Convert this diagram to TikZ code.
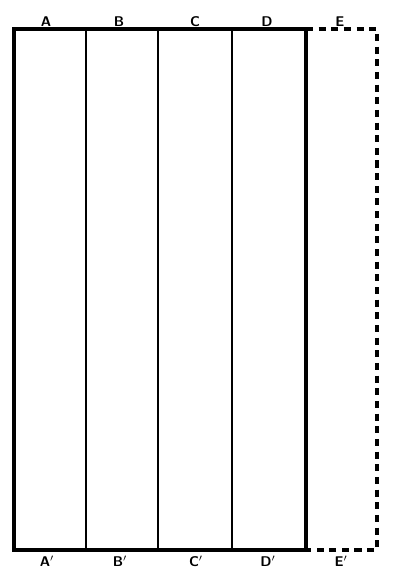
\documentclass[tikz,border=0pt]{standalone}
\usepackage{tikz}
\usetikzlibrary{calc,positioning}

\tikzset{
	plate/.style={line width=2.8pt},
	strip/.style={line width=1.9pt},
	extension/.style={line width=2.3pt, dash pattern=on 5pt off 4pt},
	edgelabel/.style={font=\sffamily\bfseries, inner sep=1pt}
}

\begin{document}
\begin{tikzpicture}[x=0.025cm, y=-0.025cm]
	\useasboundingbox (0, 0) rectangle (400, 582);
	\pgfmathsetmacro{\top}{29}
	\pgfmathsetmacro{\bottom}{550}
	% dashed extension to E E'
	\draw[extension] (306, \top) -- (377, \top) -- (377, \bottom) -- (306, \bottom);
	% the strips
	\foreach \x in {86, 158, 232} {
		\draw[strip] (\x, \top) -- (\x, \bottom);
	}
	\draw[plate] (14, \top) rectangle (306, \bottom);
	% edge labels
	\foreach \x/\name in {46/A, 119/B, 195/C, 267/D, 340/E} {
		\node[edgelabel, anchor=south] (top\name) at (\x, \top-1) {\name};
		\node[edgelabel, anchor=north] (bot\name) at (\x+1, \bottom+4) {\name$'$};
	}
\end{tikzpicture}
\end{document}
